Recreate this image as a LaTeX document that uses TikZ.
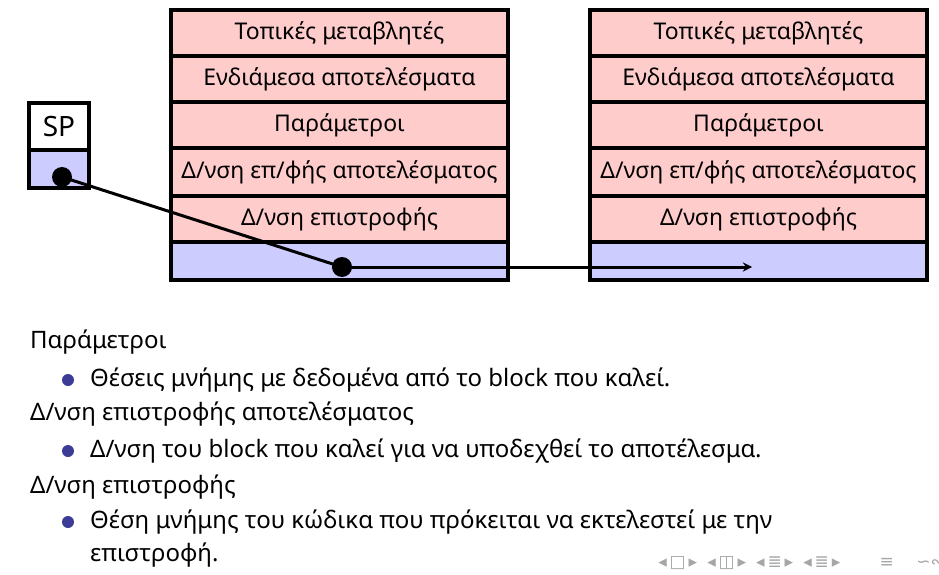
\documentclass[tikz,border=0pt]{standalone}
\usepackage{fontspec}
\setmainfont{Noto Sans}
\newfontfamily\symf{DejaVu Sans}
\definecolor{pk}{RGB}{255,204,204}
\definecolor{bl}{RGB}{204,204,255}
\definecolor{bul}{RGB}{60,60,150}
\begin{document}
\begin{tikzpicture}[x=1pt,y=-1pt,
 cell/.style={draw=black,line width=3.5pt,fill=pk},
 bcell/.style={draw=black,line width=3.5pt,fill=bl},
 lbl/.style={font=\fontsize{23}{26}\selectfont},
 body/.style={anchor=west,font=\fontsize{24}{28}\selectfont,inner sep=0},
 dot/.style={circle,fill=black,inner sep=0,minimum size=20pt},
 bu/.style={circle,fill=bul,inner sep=0,minimum size=12pt}]
\useasboundingbox (0,0) rectangle (939,575);
\foreach \x/\n in {171/L,590/R}{
 \draw[cell] (\x,10) rectangle ++(337,46) node[midway,lbl]{Τοπικές μεταβλητές};
 \draw[cell] (\x,56) rectangle ++(337,46) node[midway,lbl]{Ενδιάμεσα αποτελέσματα};
 \draw[cell] (\x,102) rectangle ++(337,46) node[midway,lbl]{Παράμετροι};
 \draw[cell] (\x,148) rectangle ++(337,48) node[midway,lbl]{Δ/νση επ/φής αποτελέσματος};
 \draw[cell] (\x,196) rectangle ++(337,46) node[midway,lbl]{Δ/νση επιστροφής};
 \draw[bcell] (\x,242) rectangle ++(337,38);
}
\draw[cell,fill=white] (29,103) rectangle (89,150) node[midway,font=\fontsize{28}{30}\selectfont]{SP};
\draw[bcell] (29,150) rectangle (89,188);
\node[dot] (d1) at (62,177) {};
\node[dot] (d2) at (342,267) {};
\coordinate (e) at (752,267);
\draw[line width=3pt,-stealth] (d1.center) -- (d2.center);
\draw[line width=3pt,-stealth] (d2.center) -- (e);
\node[body] (t1) at (30,342) {Παράμετροι};
\node[bu] (b1) at (68,380) {}; \node[body] at (90,380) {Θέσεις μνήμης με δεδομένα από το block που καλεί.};
\node[body] (t2) at (30,414) {Δ/νση επιστροφής αποτελέσματος};
\node[bu] (b2) at (68,451) {}; \node[body] at (90,451) {Δ/νση του block που καλεί για να υποδεχθεί το αποτέλεσμα.};
\node[body] (t3) at (30,487) {Δ/νση επιστροφής};
\node[bu] (b3) at (68,522) {}; \node[body] at (90,522) {Θέση μνήμης του κώδικα που πρόκειται να εκτελεστεί με την};
\node[body] at (90,555) {επιστροφή.};
\node[anchor=east,text=black!35,font=\symf\fontsize{17}{18}\selectfont,inner sep=0] (nav) at (945,563) {◂\,□\,▸\; ◂\,◫\,▸\; ◂\,≣\,▸\; ◂\,≣\,▸ \qquad ≡ \quad ∽∾};
\end{tikzpicture}
\end{document}
